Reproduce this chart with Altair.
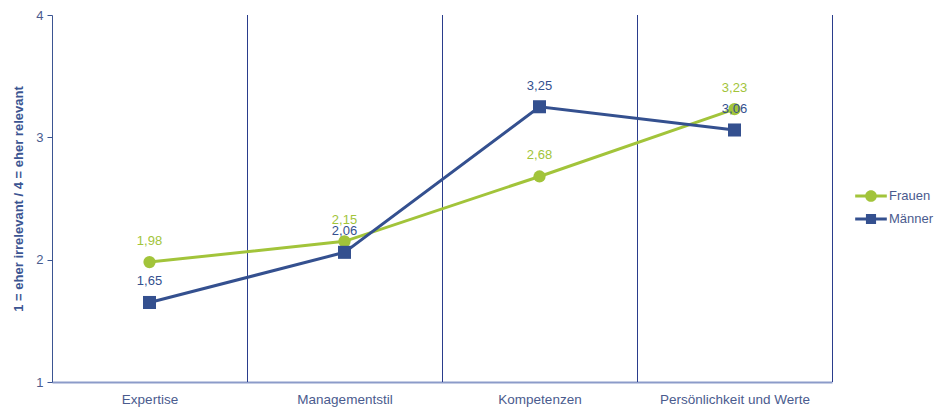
import altair as alt
import pandas as pd

categories = ["Expertise", "Managementstil", "Kompetenzen", "Persönlichkeit und Werte"]
series_names = ["Frauen", "Männer"]
frauen = [1.98, 2.15, 2.68, 3.23]
maenner = [1.65, 2.06, 3.25, 3.06]
y_ticks = [1, 2, 3, 4]

GREEN = "#a2c43a"
BLUE = "#34508f"
AXIS_BLUE = "#3b5592"
LABEL_COL = "#4a5b8e"
FONT = "Liberation Sans"

rows = []
for name, vals in zip(series_names, [frauen, maenner]):
    for i, (c, v) in enumerate(zip(categories, vals)):
        rows.append({"series": name, "category": c, "idx": i + 0.5, "value": v})
df = pd.DataFrame(rows)
bounds = pd.DataFrame({"b": list(range(1, len(categories) + 1))})

cat_array = "[" + ",".join("'" + c + "'" for c in categories) + "]"

x_scale = alt.Scale(domain=[0, len(categories)], nice=False, zero=False)
y_scale = alt.Scale(domain=[1, 4], nice=False, zero=False)
color_scale = alt.Scale(domain=series_names, range=[GREEN, BLUE])

x_enc = alt.X("idx:Q", scale=x_scale,
              axis=alt.Axis(values=[i + 0.5 for i in range(len(categories))],
                            labelExpr=cat_array + "[floor(datum.value)]",
                            grid=False, ticks=False, title=None,
                            domainColor="#8c9bc9", domainWidth=2,
                            labelColor=LABEL_COL, labelFont=FONT, labelFontSize=13.5,
                            labelPadding=10))
y_enc = alt.Y("value:Q", scale=y_scale,
              axis=alt.Axis(values=y_ticks, format="d", grid=False, tickSize=5, tickColor=AXIS_BLUE,
                            domainColor=AXIS_BLUE, labelColor=LABEL_COL, labelFont=FONT,
                            labelFontSize=13, labelPadding=4,
                            title="1 = eher irrelevant / 4 = eher relevant",
                            titleFont=FONT, titleFontSize=13, titleFontWeight="bold",
                            titleColor=AXIS_BLUE, titlePadding=10))

base = alt.Chart(df)

rules = alt.Chart(bounds).mark_rule(color="#2a3d8c", strokeWidth=1, xOffset=0.5).encode(
    x=alt.X("b:Q", scale=x_scale))

lines = base.mark_line(strokeWidth=3).encode(
    x=x_enc, y=y_enc,
    color=alt.Color("series:N", scale=color_scale, legend=None))

points = base.mark_point(filled=True, opacity=1, strokeWidth=0).encode(
    x=alt.X("idx:Q", scale=x_scale),
    y=alt.Y("value:Q", scale=y_scale),
    color=alt.Color("series:N", scale=color_scale, legend=None),
    shape=alt.Shape("series:N", scale=alt.Scale(domain=series_names, range=["circle", "square"]), legend=None),
    size=alt.Size("series:N", scale=alt.Scale(domain=series_names, range=[150, 170]), legend=None))

labels = base.mark_text(dy=-21, font=FONT, fontSize=13).transform_calculate(
    lab="replace(format(datum.value, '.2f'), '.', ',')").encode(
    x=alt.X("idx:Q", scale=x_scale),
    y=alt.Y("value:Q", scale=y_scale),
    text="lab:N",
    color=alt.Color("series:N", scale=color_scale, legend=None))

legend_paths = [
    "M-1,-0.1H1V0.1H-1Z M-0.37,0A0.37,0.37 0 1,1 0.37,0A0.37,0.37 0 1,1 -0.37,0Z",
    "M-1,-0.1H1V0.1H-1Z M-0.32,-0.32H0.32V0.32H-0.32Z",
]
leg = alt.Legend(title=None, orient="none", legendX=803, legendY=165,
                 symbolSize=1000, symbolStrokeWidth=0, rowPadding=-5,
                 labelFont=FONT, labelFontSize=13, labelColor=LABEL_COL,
                 labelOffset=2, padding=0)
legend_layer = base.mark_point(filled=True, opacity=1, strokeWidth=0).encode(
    x=alt.X("idx:Q", scale=x_scale),
    y=alt.Y("value:Q", scale=y_scale),
    size=alt.value(0),
    color=alt.Color("series:N", scale=color_scale, legend=leg),
    shape=alt.Shape("series:N", scale=alt.Scale(domain=series_names, range=legend_paths), legend=leg))

chart = alt.layer(rules, lines, points, labels, legend_layer).resolve_scale(
    shape="independent", size="independent", color="independent").properties(
    width=780, height=367,
    autosize=alt.AutoSizeParams(type="none"),
    padding={"left": 44, "top": 7, "right": 102, "bottom": 25},
).configure(background="white").configure_view(stroke=None)

chart.save("out.html", embed_options={"renderer": "svg", "actions": False})
